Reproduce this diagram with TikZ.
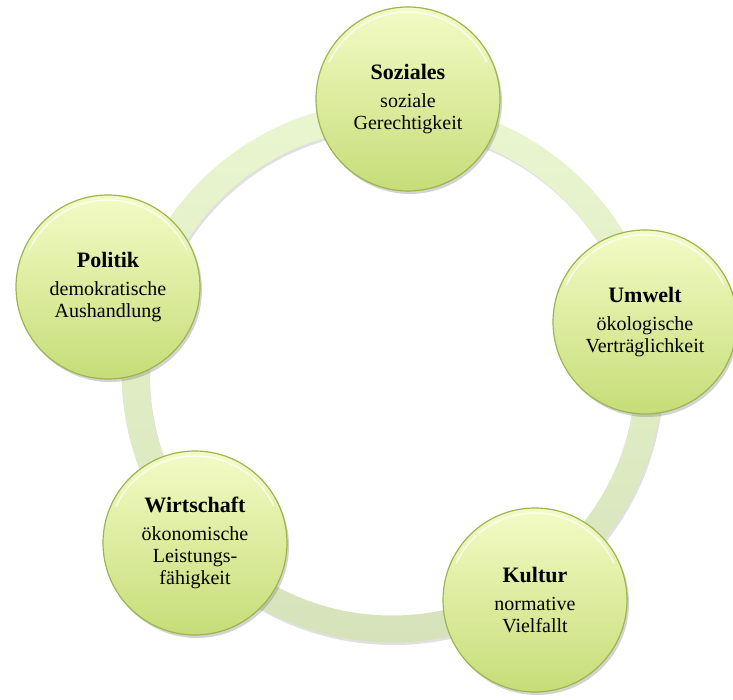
\documentclass[tikz,border=0pt]{standalone}
\usepackage{fontspec}
\setmainfont{Liberation Serif}
\usetikzlibrary{shadows,positioning}
\definecolor{ballTop}{RGB}{243,251,198}
\definecolor{ballBot}{RGB}{198,221,120}
\definecolor{ballRim}{RGB}{158,180,78}
\definecolor{ringTop}{RGB}{234,246,208}
\definecolor{ringBot}{RGB}{214,227,186}
\tikzstyle{pillar}=[
	circle,
	minimum size=184pt,
	inner sep=0pt,
	align=center,
	top color=ballTop,
	bottom color=ballBot,
	draw=ballRim,
	line width=1.2pt,
	drop shadow={opacity=.35,shadow xshift=2pt,shadow yshift=-3pt},
	path picture={\draw[white,opacity=.7,line width=1.5pt]
		(path picture bounding box.center) ++(25:87pt) arc (25:155:87pt);},
	font=\fontsize{20}{22}\selectfont]
\newcommand{\pillartext}[2]{{\fontsize{22}{22}\selectfont\bfseries #1}\\[6pt]#2}

\begin{document}
\begin{tikzpicture}[x=1pt,y=-1pt]
	\useasboundingbox (0,0) rectangle (733,700);
	\coordinate (hub) at (392,372);
	% ring behind the five circles
	\fill[black,opacity=.12,even odd rule] ([shift={(1.5pt,-2.5pt)}]hub) circle[radius=270.5pt] ([shift={(1.5pt,-2.5pt)}]hub) circle[radius=243.5pt];
	\shade[top color=ringTop,bottom color=ringBot,even odd rule] (hub) circle[radius=270.5pt] (hub) circle[radius=243.5pt];
	% the five circles
	\node[pillar] (soz) at (408,99)  {\pillartext{Soziales}{soziale\\Gerechtigkeit}};
	\node[pillar] (umw) at (645,322) {\pillartext{Umwelt}{ökologische\\Verträglichkeit}};
	\node[pillar] (kul) at (535,600) {\pillartext{Kultur}{normative\\Vielfallt}};
	\node[pillar] (wir) at (195,543) {\pillartext{Wirtschaft}{ökonomische\\Leistungs-\\fähigkeit}};
	\node[pillar] (pol) at (108,287) {\pillartext{Politik}{demokratische\\Aushandlung}};
\end{tikzpicture}
\end{document}
